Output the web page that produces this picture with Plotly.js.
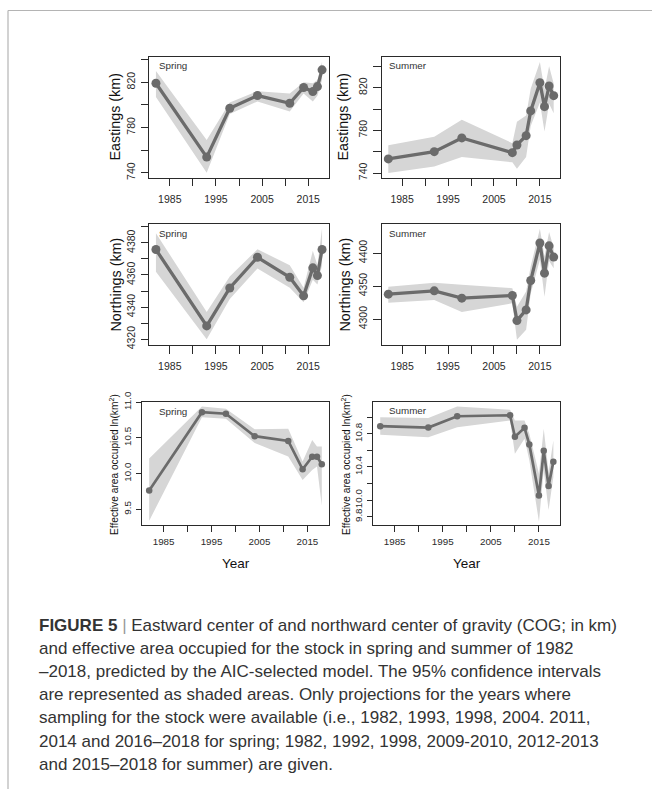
<!DOCTYPE html>
<html>
<head>
<meta charset="utf-8">
<script src="https://cdn.plot.ly/plotly-3.0.1.min.js"></script>
<style>
html,body{margin:0;padding:0;background:#fff;}
#chart{width:652px;height:789px;}
</style>
</head>
<body>
<div id="chart"></div>
<script>
// ---------- data ----------
const springYears = [1982, 1993, 1998, 2004, 2011, 2014, 2016, 2017, 2018];
const summerYears = [1982, 1992, 1998, 2009, 2010, 2012, 2013, 2015, 2016, 2017, 2018];

const springEast   = [819.1, 753.8, 797.0, 808.2, 801.4, 815.3, 811.7, 816.1, 830.9];
const springEastLo = [807, 740, 792, 803, 794, 810, 803, 808, 822];
const springEastHi = [830, 769, 802, 812, 810, 820, 819, 822, 838];

const summerEast   = [753.2, 760.0, 772.9, 759.1, 766.3, 775.0, 798.2, 824.7, 802.2, 821.6, 812.5];
const summerEastLo = [740, 746, 755, 750, 744, 755, 784, 806, 779, 805, 796];
const summerEastHi = [766, 774, 790, 768, 788, 794, 819, 844, 818, 840, 824];

const springNorth   = [4375.8, 4328.3, 4351.9, 4371.0, 4358.5, 4347.0, 4364.4, 4359.6, 4375.8];
const springNorthLo = [4362, 4320, 4345, 4364, 4352, 4343, 4357, 4354, 4366];
const springNorthHi = [4386, 4337, 4359, 4376, 4366, 4352, 4375, 4366, 4389];

const summerNorth   = [4337.9, 4342.9, 4331.8, 4335.8, 4297.9, 4314.1, 4358.5, 4415.2, 4369.7, 4411.0, 4394.0];
const summerNorthLo = [4325, 4329, 4311, 4324, 4269, 4284, 4339, 4390, 4334, 4388, 4377];
const summerNorthHi = [4349, 4355, 4352, 4347, 4319, 4342, 4380, 4437, 4395, 4432, 4408];

const springArea   = [9.764, 10.861, 10.839, 10.524, 10.458, 10.06, 10.236, 10.236, 10.13];
const springAreaLo = [9.34, 10.79, 10.77, 10.43, 10.24, 9.91, 10.05, 10.10, 9.55];
const springAreaHi = [10.21, 10.94, 10.91, 10.62, 10.63, 10.17, 10.47, 10.38, 10.38];

const summerArea   = [10.892, 10.876, 11.012, 11.024, 10.764, 10.872, 10.672, 10.055, 10.595, 10.17, 10.463];
const summerAreaLo = [10.79, 10.76, 10.88, 10.96, 10.56, 10.74, 10.48, 9.74, 10.36, 9.88, 10.28];
const summerAreaHi = [11.00, 10.99, 11.13, 11.09, 10.96, 10.96, 10.80, 10.32, 10.86, 10.34, 10.72];

const xTickVals = [1985, 1990, 1995, 2000, 2005, 2010, 2015];
const xTickText = ['1985', '', '1995', '', '2005', '', '2015'];

const eastTickVals = [740, 760, 780, 800, 820, 840];
const eastTickText = ['740', '', '780', '', '820', ''];
const springNorthTickVals = [4320, 4330, 4340, 4350, 4360, 4370, 4380, 4390];
const springNorthTickText = ['4320', '', '4340', '', '4360', '', '4380', ''];
const summerNorthTickVals = [4300, 4350, 4400];
const summerNorthTickText = ['4300', '4350', '4400'];
const springAreaTickVals = [9.5, 10.0, 10.5, 11.0];
const springAreaTickText = ['9.5', '10.0', '10.5', '11.0'];
const summerAreaTickVals = [9.8, 10.0, 10.2, 10.4, 10.6, 10.8, 11.0];
const summerAreaTickText = ['9.8', '10.0', '', '10.4', '', '10.8', ''];

const captionLines = [
  '<b>FIGURE 5</b> <span style="color:#999">|</span> Eastward center of and northward center of gravity (COG; in km)',
  'and effective area occupied for the stock in spring and summer of 1982',
  '\u20132018, predicted by the AIC-selected model. The 95% confidence intervals',
  'are represented as shaded areas. Only projections for the years where',
  'sampling for the stock were available (i.e., 1982, 1993, 1998, 2004. 2011,',
  '2014 and 2016\u20132018 for spring; 1982, 1992, 1998, 2009-2010, 2012-2013',
  'and 2015\u20132018 for summer) are given.'
];

// ---------- layout helpers ----------
const W = 652, H = 789;
const fx = p => p / W;
const fy = p => 1 - p / H;
const FONT = 'Liberation Sans, Arial, sans-serif';
const LINE = '#6b6b6b';
const SHADE = '#d6d6d6';
const AXC = '#2a2a2a';

const panels = [
  {x: springYears, y: springEast, lo: springEastLo, hi: springEastHi, box: [149.3, 328.7, 57.3, 177.7],
   yr: [735.6, 842], tv: eastTickVals, tt: eastTickText, small: false, label: 'Spring', lab: [156.5, 65],
   ytitle: 'Eastings (km)', yt: [115, 117.5]},
  {x: summerYears, y: summerEast, lo: summerEastLo, hi: summerEastHi, box: [381.7, 560.3, 57.3, 177.7],
   yr: [735.6, 848.5], tv: eastTickVals, tt: eastTickText, small: false, label: 'Summer', lab: [387.3, 65],
   ytitle: 'Eastings (km)', yt: [343, 117.5]},
  {x: springYears, y: springNorth, lo: springNorthLo, hi: springNorthHi, box: [149.3, 328.7, 224, 345],
   yr: [4316.4, 4391.7], tv: springNorthTickVals, tt: springNorthTickText, small: false, label: 'Spring', lab: [156.5, 234],
   ytitle: 'Northings (km)', yt: [115, 284.5]},
  {x: summerYears, y: summerNorth, lo: summerNorthLo, hi: summerNorthHi, box: [381.7, 560.3, 224, 345],
   yr: [4261, 4444], tv: summerNorthTickVals, tt: summerNorthTickText, small: false, label: 'Summer', lab: [387.5, 234],
   ytitle: 'Northings (km)', yt: [344, 284.5]},
  {x: springYears, y: springArea, lo: springAreaLo, hi: springAreaHi, box: [142.3, 328.7, 401.5, 525],
   yr: [9.28, 11.01], tv: springAreaTickVals, tt: springAreaTickText, small: true, label: 'Spring', lab: [156.5, 411.5],
   ytitle: 'Effective area occupied ln(km<sup>2</sup>)', yt: [114, 465]},
  {x: summerYears, y: summerArea, lo: summerAreaLo, hi: summerAreaHi, box: [373.3, 560.3, 401.5, 525],
   yr: [9.70, 11.19], tv: summerAreaTickVals, tt: summerAreaTickText, small: true, label: 'Summer', lab: [387.5, 410],
   ytitle: 'Effective area occupied ln(km<sup>2</sup>)', yt: [346, 465]}
];

const data = [];
const layout = {
  width: W, height: H,
  margin: {l: 0, r: 0, t: 0, b: 0},
  paper_bgcolor: '#fff', plot_bgcolor: '#fff',
  showlegend: false,
  font: {family: FONT, color: AXC},
  annotations: [],
  shapes: [
    {type: 'line', xref: 'paper', yref: 'paper', x0: fx(8), x1: 1, y0: fy(10.5), y1: fy(10.5), line: {color: '#b4b4b4', width: 1.2}},
    {type: 'line', xref: 'paper', yref: 'paper', x0: fx(8), x1: fx(8), y0: fy(10.5), y1: 0, line: {color: '#b4b4b4', width: 1.2}}
  ]
};

panels.forEach((p, i) => {
  const n = i + 1;
  const xa = 'x' + (n === 1 ? '' : n), ya = 'y' + (n === 1 ? '' : n);
  const xk = 'xaxis' + (n === 1 ? '' : n), yk = 'yaxis' + (n === 1 ? '' : n);
  const lw = p.small ? 2.7 : 3.3;
  const ms = p.small ? 6.5 : 9;
  const tfs = p.small ? 9.8 : 10.5;
  const tl = p.small ? 5.7 : 7.5;

  data.push({
    type: 'scatter', mode: 'lines', xaxis: xa, yaxis: ya,
    x: p.x.concat(p.x.slice().reverse()),
    y: p.hi.concat(p.lo.slice().reverse()),
    fill: 'toself', fillcolor: SHADE, line: {width: 0, color: SHADE}, hoverinfo: 'skip'
  });
  data.push({
    type: 'scatter', mode: 'lines+markers', xaxis: xa, yaxis: ya,
    x: p.x, y: p.y, cliponaxis: false,
    line: {color: LINE, width: lw},
    marker: {color: LINE, size: ms}
  });

  layout[xk] = {
    domain: [fx(p.box[0]), fx(p.box[1])], anchor: ya,
    range: [1980.56, 2019.44], tickvals: xTickVals, ticktext: xTickText,
    ticks: 'outside', ticklen: tl, tickwidth: 1, tickcolor: AXC,
    showline: true, mirror: true, linecolor: AXC, linewidth: 1,
    showgrid: false, zeroline: false, fixedrange: true,
    tickfont: {family: FONT, size: tfs, color: AXC},
    ticklabelstandoff: p.small ? 2 : 4
  };
  layout[yk] = {
    domain: [fy(p.box[3]), fy(p.box[2])], anchor: xa,
    range: p.yr, tickvals: p.tv, ticktext: p.tt, tickangle: -90,
    ticks: 'outside', ticklen: tl, tickwidth: 1, tickcolor: AXC,
    showline: true, mirror: true, linecolor: AXC, linewidth: 1,
    showgrid: false, zeroline: false, fixedrange: true,
    tickfont: {family: FONT, size: tfs, color: AXC},
    ticklabelstandoff: p.small ? 1 : 2
  };

  layout.annotations.push({
    xref: 'paper', yref: 'paper', x: fx(p.lab[0]), y: fy(p.lab[1]),
    xanchor: 'left', yanchor: 'middle', showarrow: false,
    text: p.label, font: {family: FONT, size: 9.8, color: '#333'}
  });
  layout.annotations.push({
    xref: 'paper', yref: 'paper', x: fx(p.yt[0]), y: fy(p.yt[1]),
    xanchor: 'center', yanchor: 'middle', showarrow: false, textangle: -90,
    text: p.ytitle, font: {family: FONT, size: p.small ? 10.2 : 14.3, color: '#111'}
  });
});

// x titles for bottom row
[[235.5, 563.5], [467, 563.5]].forEach(pos => {
  layout.annotations.push({
    xref: 'paper', yref: 'paper', x: fx(pos[0]), y: fy(pos[1]),
    xanchor: 'center', yanchor: 'middle', showarrow: false,
    text: 'Year', font: {family: FONT, size: 13.5, color: '#111'}
  });
});

// caption
captionLines.forEach((t, i) => {
  layout.annotations.push({
    xref: 'paper', yref: 'paper', x: fx(37), y: fy(625 + i * 23.2),
    xanchor: 'left', yanchor: 'middle', showarrow: false, align: 'left',
    text: t, font: {family: FONT, size: 17, color: '#333'}
  });
});

Plotly.newPlot('chart', data, layout, {displayModeBar: false, staticPlot: true});
</script>
</body>
</html>
